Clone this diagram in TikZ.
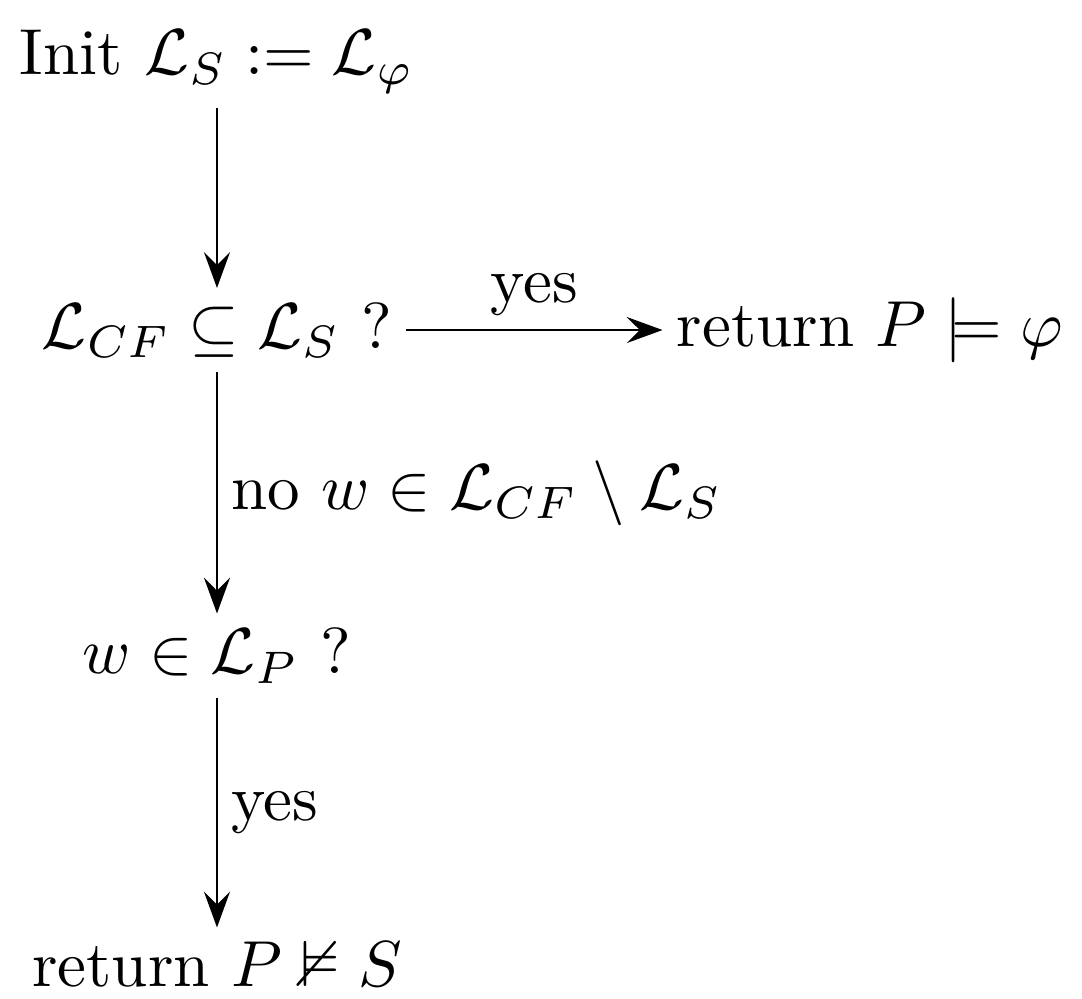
\documentclass[tikz,border=0pt]{standalone}
\usepackage{amsmath,amssymb}
\usetikzlibrary{positioning,arrows.meta}
\begin{document}
\begin{tikzpicture}[>={Stealth[length=5.5pt,width=4pt,inset=2pt]}, every node/.style={inner sep=2pt}]
  \useasboundingbox (-1.173,-3.611) rectangle (4.676,1.784);
  % steps of the check
  \node (init) at (0,1.45) {Init $\mathcal{L}_S := \mathcal{L}_\varphi$};
  \node (incl) at (0,0) {$\mathcal{L}_{CF} \subseteq \mathcal{L}_S$ ?};
  \node (sat) at (3.53,0) {return $P \models \varphi$};
  \node (memb) at (0,-1.76) {$w \in \mathcal{L}_P$ ?};
  \node (fail) at (0,-3.43) {return $P \nvDash S$};
  % arrows
  \draw[->] (init) -- (incl);
  \draw[->] (incl) -- node[above] {yes} (sat);
  \draw[->] (incl) -- node[right] {no $w \in \mathcal{L}_{CF} \setminus \mathcal{L}_S$} (memb);
  \draw[->] (memb) -- node[right] {yes} (fail);
\end{tikzpicture}
\end{document}
